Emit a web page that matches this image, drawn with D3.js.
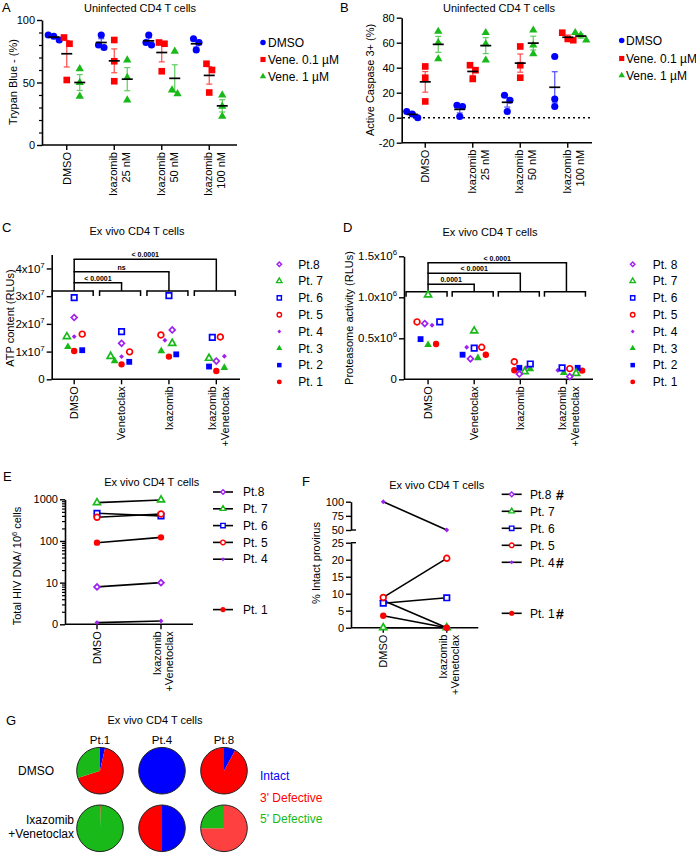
<!DOCTYPE html>
<html><head><meta charset="utf-8">
<script src="https://cdn.jsdelivr.net/npm/d3@7"></script>
<style>html,body{margin:0;padding:0;background:#fff;}svg{display:block;}</style>
</head><body>
<svg id="chart" width="696" height="853" viewBox="0 0 696 853"></svg>
<script>
// ================= DATA =================
// Panels A & B
const abGroups = ["DMSO", "Ixazomib 25 nM", "Ixazomib 50 nM", "Ixazomib 100 nM"];
const abGroupLabels = [["DMSO"], ["Ixazomib", "25 nM"], ["Ixazomib", "50 nM"], ["Ixazomib", "100 nM"]];
const abSeries = ["DMSO", "Vene. 0.1 \u00b5M", "Vene. 1 \u00b5M"];
const trypanTicks = [0, 50, 100];
const trypanMinor = [10, 20, 30, 40, 60, 70, 80, 90];
const trypanDMSO   = [[88, 87, 84], [88, 80, 78], [88, 82, 80], [85, 82, 76]];
const trypanVene01 = [[86, 81, 52], [84, 67, 51], [82, 81, 59], [65, 60, 42]];
const trypanVene1  = [[61, 50, 39], [68, 54, 36], [75, 44, 41], [40, 31, 23]];
const caspTicks = [-20, 0, 20, 40, 60, 80];
const caspDMSO   = [[5, 3, 0], [10, 9, 1], [18, 14, 5], [49, 15, 9]];
const caspVene01 = [[41, 32, 13], [42, 38, 31], [57, 42, 32], [68, 63, 62]];
const caspVene1  = [[69, 60, 47], [68, 59, 46], [70, 58, 51], [68, 66, 62]];

// Panels C & D (rows: Pt.1 .. Pt.8, columns: groups)
const exGroups = ["DMSO", "Venetoclax", "Ixazomib", "Ixazomib +Venetoclax"];
const exGroupLabels = [["DMSO"], ["Venetoclax"], ["Ixazomib"], ["Ixazomib", "+Venetoclax"]];
const patientIds = [1, 2, 3, 4, 5, 6, 7, 8];
const atpTicks = [0, 1e7, 2e7, 3e7, 4e7];
const atpContent = [
  [1.02e7, 0.54e7, 0.82e7, 0.30e7],
  [1.05e7, 0.63e7, 0.90e7, 0.46e7],
  [1.17e7, 0.66e7, 1.02e7, 0.42e7],
  [1.54e7, 0.82e7, 1.41e7, 0.83e7],
  [1.63e7, 0.99e7, 1.60e7, 1.53e7],
  [2.95e7, 1.72e7, 3.02e7, 1.51e7],
  [1.54e7, 0.83e7, 1.30e7, 0.76e7],
  [2.23e7, 1.30e7, 1.78e7, 0.66e7]
];
const atpPValues = ["< 0.0001", "ns", "< 0.0001"];
const atpLegend = ["Pt.8", "Pt. 7", "Pt. 6", "Pt. 5", "Pt. 4", "Pt. 3", "Pt. 2", "Pt. 1"];
const protTicks = [0, 0.5e6, 1.0e6, 1.5e6];
const protActivity = [
  [0.43e6, 0.30e6, 0.110e6, 0.106e6],
  [0.49e6, 0.30e6, 0.140e6, 0.140e6],
  [0.42e6, 0.26e6, 0.126e6, 0.080e6],
  [0.66e6, 0.39e6, 0.140e6, 0.110e6],
  [0.70e6, 0.39e6, 0.215e6, 0.130e6],
  [0.70e6, 0.38e6, 0.187e6, 0.140e6],
  [1.03e6, 0.59e6, 0.093e6, 0.073e6],
  [0.68e6, 0.25e6, 0.065e6, 0.033e6]
];
const protPValues = ["0.0001", "< 0.0001", "< 0.0001"];
const protLegend = ["Pt. 8", "Pt. 7", "Pt. 6", "Pt. 5", "Pt. 4", "Pt. 3", "Pt. 2", "Pt. 1"];

// Panel E
const pairGroups = ["DMSO", "Ixazomib +Venetoclax"];
const pairGroupLabels = [["DMSO"], ["Ixazomib", "+Venetoclax"]];
const pairPatients = [8, 7, 6, 5, 4, 1];
const hivLegend = ["Pt.8", "Pt. 7", "Pt. 6", "Pt. 5", "Pt. 4", "Pt. 1"];
const hivTicks = [1, 10, 100, 1000];
const hivTickLabels = ["0", "10", "100", "1000"];
const hivDNA = [[7.9, 10], [832, 964], [461, 398], [370, 445], [1.1, 1.2], [91, 122]];

// Panel F
const intactLegend = ["Pt.8", "Pt. 7", "Pt. 6", "Pt. 5", "Pt. 4", "Pt. 1"];
const intactMarks = ["#", "", "", "", "#", "#"];
const intactTicksLow = [0, 5, 10, 15, 20, 25];
const intactTicksHigh = [50, 75, 100];
const intactPct = [[8, 0], [0, 0], [7.2, 8.8], [8.9, 20.4], [100, 50], [3.5, 0]];

// Panel G
const pieCategories = ["Intact", "3' Defective", "5' Defective"];
const piePatients = ["Pt.1", "Pt.4", "Pt.8"];
const pieRows = ["DMSO", "Ixazomib +Venetoclax"];
const pieRowLabels = [["DMSO"], ["Ixazomib", "+Venetoclax"]];
const pieDMSO  = [[3.5, 66.5, 30], [100, 0, 0], [8, 92, 0]];
const pieCombo = [[0, 0.5, 99.5], [50, 50, 0], [0, 75, 25]];

// ================= LAYOUT / STYLE =================
// horizontal dodge slots for scatter points (in marker-width units), rows Pt.1..Pt.8
const atpDodge = [
  [0, 0, 0, 0], [1.1, 1.05, 1, -1], [-0.86, -0.95, -1.05, 1.1], [0, 0, -0.55, 1.1],
  [1.1, 1.1, -1.1, 0.55], [0, 0, 0, -0.55], [-1, -1.5, 0.45, -1], [0, 0, 0.45, 0]
];
const protDodge = [
  [1.07, 1.55, -0.8, 2.1], [-1.0, -1.55, -0.13, 1.5], [0, 0.5, 1.33, -0.36], [0.53, -1, 0.75, -1.15],
  [-1.47, 1, -0.8, 0.44], [1.56, 0, 1.33, -0.58], [0, 0, 0.58, 1.29], [-0.44, -0.5, -0.13, 0.44]
];

const FONT = '"Liberation Sans", Arial, Helvetica, sans-serif';
const BLUE = "#0000ff", RED = "#ff0000", GREEN = "#19b919", PURPLE = "#a020f0", INK = "#000";
const PT_STYLE = {
  1: {shape: "circle", color: RED, filled: true, size: 32},
  2: {shape: "square", color: BLUE, filled: true, size: 34},
  3: {shape: "triangle", color: GREEN, filled: true, size: 26},
  4: {shape: "diamond", color: PURPLE, filled: true, size: 12},
  5: {shape: "circle", color: RED, filled: false, size: 26},
  6: {shape: "square", color: BLUE, filled: false, size: 30},
  7: {shape: "triangle", color: GREEN, filled: false, size: 21},
  8: {shape: "diamond", color: PURPLE, filled: false, size: 17}
};
const SYM = {circle: d3.symbolCircle, square: d3.symbolSquare, triangle: d3.symbolTriangle, diamond: d3.symbolSquare};

const svg = d3.select("#chart");
svg.append("rect").attr("width", 696).attr("height", 853).attr("fill", "#fff");
const root = svg.append("g");

function addText(g, x, y, str, o = {}) {
  const t = g.append("text").attr("x", x).attr("y", y)
    .attr("font-family", FONT).attr("font-size", o.size || 11)
    .attr("fill", o.fill || INK).attr("text-anchor", o.anchor || "start").text(str);
  if (o.weight) t.attr("font-weight", o.weight);
  if (o.dy) t.attr("dy", o.dy);
  return t;
}
function addVText(g, x, y, str, o = {}) {
  return g.append("text").attr("transform", `translate(${x},${y}) rotate(-90)`)
    .attr("dy", "0.35em").attr("font-family", FONT).attr("font-size", o.size || 11)
    .attr("fill", INK).attr("text-anchor", o.anchor || "middle").text(str);
}
function seg(g, x1, y1, x2, y2, w = 1.5, color = INK, dash) {
  const l = g.append("line").attr("x1", x1).attr("y1", y1).attr("x2", x2).attr("y2", y2)
    .attr("stroke", color).attr("stroke-width", w);
  if (dash) l.attr("stroke-dasharray", dash);
  return l;
}
function marker(g, x, y, st, scale = 1) {
  const rot = st.shape === "diamond" ? " rotate(45)" : "";
  const p = g.append("path").attr("transform", `translate(${x},${y})${rot}`)
    .attr("d", d3.symbol(SYM[st.shape], st.size * scale)());
  if (st.filled) p.attr("fill", st.color).attr("stroke", "none");
  else p.attr("fill", "#fff").attr("stroke", st.color).attr("stroke-width", scale < 1 ? 1.4 : 1.7);
  return p;
}
function panelLetter(x, y, s) { addText(root, x, y, s, {size: 13}); }

function drawYAxis(g, scale, x, ticks, fmt, o = {}) {
  const ax = d3.axisLeft(scale).tickValues(ticks).tickSize(5).tickSizeOuter(0).tickPadding(2).tickFormat(() => "");
  const ag = g.append("g").attr("transform", `translate(${x},0)`).call(ax);
  ag.select(".domain").attr("stroke", INK).attr("stroke-width", 1.6);
  ag.selectAll(".tick line").attr("stroke", INK).attr("stroke-width", 1.4);
  ag.selectAll(".tick text").each(function (d) {
    const t = d3.select(this).attr("font-family", FONT).attr("font-size", o.size || 11).attr("fill", INK);
    const lbl = fmt(d);
    if (Array.isArray(lbl)) {
      t.text(lbl[0]);
      t.append("tspan").attr("dy", -5).attr("font-size", (o.size || 11) * 0.68).text(lbl[1]);
    } else t.text(lbl);
  });
  if (o.minor) {
    const mg = g.append("g").attr("transform", `translate(${x},0)`)
      .call(d3.axisLeft(scale).tickValues(o.minor).tickSize(3).tickSizeOuter(0).tickFormat(() => ""));
    mg.select(".domain").remove();
    mg.selectAll(".tick line").attr("stroke", INK).attr("stroke-width", 1.2);
  }
  return ag;
}
function drawXAxis(g, scale, y, x0, x1, labels, off) {
  const ag = g.append("g").attr("transform", `translate(0,${y})`)
    .call(d3.axisBottom(scale).tickSize(5).tickSizeOuter(0).tickFormat(() => ""));
  ag.select(".domain").remove();
  ag.selectAll(".tick line").attr("stroke", INK).attr("stroke-width", 1.4);
  seg(g, x0, y, x1, y, 1.6);
  scale.domain().forEach((d, i) => {
    const cx = scale(d) + scale.bandwidth() / 2;
    const lines = labels[i];
    lines.forEach((ln, j) => {
      const lx = cx + (lines.length > 1 ? off[j] : 0);
      g.append("text").attr("transform", `translate(${lx},${y + 7}) rotate(-90)`)
        .attr("dy", "0.35em").attr("text-anchor", "end")
        .attr("font-family", FONT).attr("font-size", 11).attr("fill", INK).text(ln);
    });
  });
}
function dodge(ys, thr, step) {
  const idx = ys.map((_, i) => i).sort((a, b) => ys[a] - ys[b]);
  const out = new Array(ys.length).fill(0);
  let cl = [idx[0]];
  const flush = () => cl.forEach((id, k) => { out[id] = (k - (cl.length - 1) / 2) * step; });
  for (let j = 1; j < idx.length; j++) {
    if (ys[idx[j]] - ys[idx[j - 1]] < thr) cl.push(idx[j]);
    else { flush(); cl = [idx[j]]; }
  }
  flush();
  return out;
}

// ---------- mean ± SEM panels (A, B) ----------
const abColors = [BLUE, RED, GREEN];
const abShapes = [
  {shape: "circle", size: 40}, {shape: "square", size: 44}, {shape: "triangle", size: 30}
];
const abOffsets = [-13, 0, 13];
function drawMeanSem(g, x, y, seriesVals) {
  seriesVals.forEach((vals, s) => {
    vals.forEach((trip, i) => {
      const cx = x(abGroups[i]) + x.bandwidth() / 2 + abOffsets[s];
      const m = d3.mean(trip), sem = d3.deviation(trip) / Math.sqrt(trip.length);
      const col = abColors[s];
      const eg = g.append("g").attr("opacity", 0.7);
      seg(eg, cx, y(m - sem), cx, y(m + sem), 1.2, col);
      seg(eg, cx - 3, y(m - sem), cx + 3, y(m - sem), 1.2, col);
      seg(eg, cx - 3, y(m + sem), cx + 3, y(m + sem), 1.2, col);
      const ys = trip.map(v => y(v));
      const dx = dodge(ys, 6.5, 5.5);
      trip.forEach((v, k) => marker(g, cx + dx[k], ys[k], {shape: abShapes[s].shape, size: abShapes[s].size, color: col, filled: true}));
      seg(g, cx - 5.5, y(m), cx + 5.5, y(m), 1.7, INK);
    });
  });
}
function drawAbLegend(g, mx, tx, rows) {
  abSeries.forEach((s, i) => {
    marker(g, mx, rows[i], {shape: abShapes[i].shape, size: abShapes[i].size * 0.6, color: abColors[i], filled: true});
    addText(g, tx, rows[i], s, {size: 12, dy: "0.35em"});
  });
}

// Panel A
{
  const g = root.append("g");
  const y = d3.scaleLinear().domain([0, 100]).range([145, 20]);
  const x = d3.scaleBand().domain(abGroups).range([43, 233]);
  panelLetter(2, 12, "A");
  addText(g, 140, 12.3, "Uninfected CD4 T cells", {anchor: "middle", size: 11});
  drawYAxis(g, y, 42, trypanTicks, d => String(d), {minor: trypanMinor});
  drawXAxis(g, x, 145, 42, 237, abGroupLabels, [-1, 12]);
  addVText(g, 13, 82, "Trypan Blue - (%)");
  drawMeanSem(g, x, y, [trypanDMSO, trypanVene01, trypanVene1]);
  drawAbLegend(g, 263, 268, [42.5, 59.5, 76.5]);
}
// Panel B
{
  const g = root.append("g");
  const y = d3.scaleLinear().domain([-20, 80]).range([142.7, 17.7]);
  const x = d3.scaleBand().domain(abGroups).range([401.5, 591.5]);
  panelLetter(340, 12, "B");
  addText(g, 499, 12.3, "Uninfected CD4 T cells", {anchor: "middle", size: 11});
  drawYAxis(g, y, 401.7, caspTicks, d => String(d));
  drawXAxis(g, x, 142.7, 401.7, 592, abGroupLabels, [-1, 12]);
  seg(g, 403, y(0), 592, y(0), 1.5, INK, "2,3");
  addVText(g, 370, 80, "Active Caspase 3+ (%)");
  drawMeanSem(g, x, y, [caspDMSO, caspVene01, caspVene1]);
  drawAbLegend(g, 621.7, 626, [40.5, 58.5, 75.5]);
}

// ---------- patient scatter panels (C, D) ----------
function drawBrackets(g, x, baseY, pvals, levels) {
  const c = d => x(d) + x.bandwidth() / 2;
  exGroups.forEach(gn => {
    const cx = c(gn);
    seg(g, cx - 22, baseY, cx + 19, baseY, 1.5);
    seg(g, cx - 22, baseY - 0.7, cx - 22, baseY + 5, 1.5);
    seg(g, cx + 19, baseY - 0.7, cx + 19, baseY + 5, 1.5);
  });
  const c0 = c(exGroups[0]);
  seg(g, c0, baseY, c0, baseY - levels[levels.length - 1], 1.5);
  pvals.forEach((p, k) => {
    const cx = c(exGroups[k + 1]);
    const yb = baseY - levels[k];
    seg(g, c0 - 0.7, yb, cx + 0.7, yb, 1.5);
    seg(g, cx, yb, cx, baseY, 1.5);
    addText(g, (c0 + cx) / 2, yb - 2, p, {anchor: "middle", size: 7, weight: "bold"});
  });
}
function drawPatientScatter(g, x, y, values, slots, slotW) {
  const order = [1, 2, 3, 4, 7, 6, 5, 8];
  order.forEach(pid => {
    const p = patientIds.indexOf(pid);
    values[p].forEach((v, i) => {
      const cx = x(exGroups[i]) + x.bandwidth() / 2 + slots[p][i] * slotW;
      marker(g, cx, y(v), PT_STYLE[pid]);
    });
  });
}
function drawPatientLegend(g, labels, mx, tx, y0, step) {
  labels.forEach((lb, i) => {
    const pid = 8 - i;
    const yy = y0 + i * step;
    marker(g, mx, yy, PT_STYLE[pid], 0.6);
    addText(g, tx, yy, lb, {size: 12, dy: "0.35em"});
  });
}

// Panel C
{
  const g = root.append("g");
  const y = d3.scaleLinear().domain([0, 4.5e7]).range([379.3, 254.6]);
  const x = d3.scaleBand().domain(exGroups).range([50.5, 240]);
  panelLetter(2, 232, "C");
  addText(g, 137, 235, "Ex vivo CD4 T cells", {anchor: "middle", size: 11});
  drawYAxis(g, y, 51.7, atpTicks, d => d === 0 ? "0" : [`${d / 1e7}x10`, "7"], {size: 11.5});
  drawXAxis(g, x, 379.3, 51.7, 240, exGroupLabels, [-4, 8.5]);
  addVText(g, 10, 318, "ATP content (RLUs)");
  drawBrackets(g, x, 291, atpPValues, [8.3, 19.3, 31.7]);
  drawPatientScatter(g, x, y, atpContent, atpDodge, 7.3);
  drawPatientLegend(g, atpLegend, 279.3, 298.3, 264.3, 16.8);
}
// Panel D
{
  const g = root.append("g");
  const y = d3.scaleLinear().domain([0, 1.5e6]).range([379.3, 256.3]);
  const x = d3.scaleBand().domain(exGroups).range([405, 589.5]);
  panelLetter(343, 232, "D");
  addText(g, 490, 235.5, "Ex vivo CD4 T cells", {anchor: "middle", size: 11});
  drawYAxis(g, y, 404, protTicks, d => d === 0 ? "0" : [`${(d / 1e6).toFixed(1)}x10`, "6"], {size: 11.5});
  drawXAxis(g, x, 379.3, 404, 593, exGroupLabels, [-4, 8.5]);
  addVText(g, 349, 318, "Proteasome activity (RLUs)");
  drawBrackets(g, x, 291.7, protPValues, [7.4, 18.4, 29]);
  drawPatientScatter(g, x, y, protActivity, protDodge, 7.5);
  drawPatientLegend(g, protLegend, 632.7, 652.7, 264.3, 16.8);
}

// ---------- paired panels (E, F) ----------
function drawPairs(g, x, yOf, values) {
  const cx = pairGroups.map(d => x(d) + x.bandwidth() / 2);
  pairPatients.forEach((pid, p) => {
    seg(g, cx[0], yOf(values[p][0]), cx[1], yOf(values[p][1]), 1.6, INK);
  });
  pairPatients.forEach((pid, p) => {
    values[p].forEach((v, i) => marker(g, cx[i], yOf(v), PT_STYLE[pid]));
  });
}
function drawPairLegend(g, labels, x0, x1, tx, y0, step, marks) {
  pairPatients.forEach((pid, i) => {
    const yy = y0 + (8 - pid) * step;
    seg(g, x0, yy, x1, yy, 1.6, INK);
    marker(g, (x0 + x1) / 2, yy, PT_STYLE[pid], 0.65);
    addText(g, tx, yy, labels[i], {size: 12, dy: "0.35em"});
    if (marks && marks[i]) addText(g, 556, yy, marks[i], {size: 14, weight: "bold", dy: "0.4em"});
  });
}

// Panel E
{
  const g = root.append("g");
  const y = d3.scaleLog().domain([1, 1000]).range([624.3, 499.3]);
  const x = d3.scaleBand().domain(pairGroups).range([65, 193]);
  panelLetter(3, 481, "E");
  addText(g, 151.7, 485.5, "Ex vivo CD4 T cells", {anchor: "middle", size: 11});
  const minor = [];
  [1, 10, 100].forEach(b => { for (let k = 2; k <= 9; k++) minor.push(b * k); });
  drawYAxis(g, y, 65, hivTicks, d => hivTickLabels[hivTicks.indexOf(d)], {minor});
  drawXAxis(g, x, 624.3, 65, 193, pairGroupLabels, [-4, 8.5]);
  const yt = g.append("text").attr("transform", "translate(17,566) rotate(-90)").attr("dy", "0.35em")
    .attr("text-anchor", "middle").attr("font-family", FONT).attr("font-size", 11).attr("fill", INK);
  yt.append("tspan").text("Total HIV DNA/ 10");
  yt.append("tspan").attr("dy", -4).attr("font-size", 7.5).text("6");
  yt.append("tspan").attr("dy", 4).text(" cells");
  drawPairs(g, x, v => y(v), hivDNA);
  drawPairLegend(g, hivLegend, 213, 233, 243, 492, 16.8);
}
// Panel F
{
  const g = root.append("g");
  const yLow = d3.scaleLinear().domain([0, 25]).range([627.7, 542.7]);
  const yHigh = d3.scaleLinear().domain([50, 100]).range([530, 501.7]);
  const yOf = v => v > 25 ? yHigh(v) : yLow(v);
  const x = d3.scaleBand().domain(pairGroups).range([351.5, 478.5]);
  panelLetter(302, 486, "F");
  addText(g, 436.7, 489, "Ex vivo CD4 T cells", {anchor: "middle", size: 11});
  drawYAxis(g, yLow, 351, intactTicksLow, d => String(d));
  drawYAxis(g, yHigh, 351, intactTicksHigh, d => String(d));
  seg(g, 351, yLow(25), 356, yLow(25), 1.4);
  seg(g, 351, yHigh(50), 356, yHigh(50), 1.4);
  drawXAxis(g, x, 627.7, 351, 478.3, pairGroupLabels, [-4, 8.5]);
  addVText(g, 316, 563, "% Intact provirus");
  drawPairs(g, x, yOf, intactPct);
  drawPairLegend(g, intactLegend, 501.7, 521.7, 530, 494.3, 17, intactMarks);
}

// ---------- Panel G: pies ----------
{
  const g = root.append("g");
  const pieColors = [BLUE, RED, GREEN];
  const px = d3.scalePoint().domain(piePatients).range([100, 224]);
  const py = d3.scalePoint().domain(pieRows).range([770.7, 828.3]);
  const R = 23.3;
  const pie = d3.pie().sort(null).value(d => d);
  const arc = d3.arc().innerRadius(0).outerRadius(R);
  panelLetter(6, 725, "G");
  addText(g, 155, 724, "Ex vivo CD4 T cells", {anchor: "middle", size: 11});
  piePatients.forEach(p => addText(g, px(p), 744, p, {anchor: "middle", size: 11.5}));
  [pieDMSO, pieCombo].forEach((rowVals, r) => {
    rowVals.forEach((vals, c) => {
      const pg = g.append("g").attr("transform", `translate(${px(piePatients[c])},${py(pieRows[r])})`);
      pg.selectAll("path").data(pie(vals).filter(d => d.data > 0)).join("path")
        .attr("d", arc).attr("fill", d => pieColors[d.index])
        .attr("fill-opacity", d => (r === 1 && c === 2 && d.index === 1) ? 0.75 : 1);
      pg.append("circle").attr("r", R).attr("fill", "none").attr("stroke", "#222").attr("stroke-width", 1);
    });
  });
  addText(g, 18, py(pieRows[0]), pieRowLabels[0][0], {size: 12, dy: "0.35em"});
  addText(g, 74, 820, pieRowLabels[1][0], {size: 12, dy: "0.35em", anchor: "end"});
  addText(g, 74, 833.3, pieRowLabels[1][1], {size: 12, dy: "0.35em", anchor: "end"});
  pieCategories.forEach((cat, i) => addText(g, 260, 776 + i * 21.5, cat, {size: 12, dy: "0.35em", fill: pieColors[i]}));
}
</script>
</body></html>
